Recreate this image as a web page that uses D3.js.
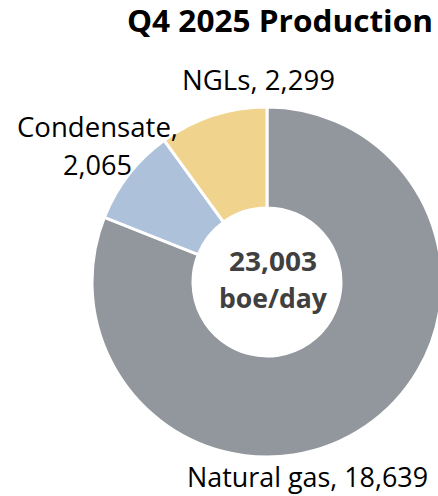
<!DOCTYPE html>
<html>
<head>
<meta charset="utf-8">
<script src="https://cdn.jsdelivr.net/npm/d3@7"></script>
<style>
  html, body { margin: 0; padding: 0; background: #fff; overflow: hidden; }
  text { font-family: "Open Sans", "Noto Sans", sans-serif; }
</style>
</head>
<body>
<script>
const width = 438;
const height = 496;

// production by product, boe/day (clockwise from 12 o'clock)
const categories = ["Natural gas", "Condensate", "NGLs"];
const values = [18639, 2065, 2299];
const colors = ["#92969d", "#adc1da", "#f0d48e"];
const total = 23003;
const unit = "boe/day";
const title = "Q4 2025 Production";

const cx = 267, cy = 282;
const outerR = 175, innerR = 74;

const svg = d3.select('body').append('svg')
  .attr('width', width)
  .attr('height', height);

const data = categories.map((c, i) => ({ name: c, value: values[i], color: colors[i] }));

const pie = d3.pie()
  .value(d => d.value)
  .sort(null);

const arc = d3.arc()
  .innerRadius(innerR)
  .outerRadius(outerR);

const g = svg.append('g')
  .attr('transform', `translate(${cx}, ${cy})`);

g.selectAll('path').data(pie(data))
  .join('path')
  .attr('d', arc)
  .attr('fill', d => d.data.color)
  .attr('stroke', '#fff')
  .attr('stroke-width', 3);

const fmt = d3.format(',');

// text helper: squeeze to the width seen in the picture
const label = (x, y, str, size, len, bold, fill) => svg.append('text')
  .attr('x', x)
  .attr('y', y)
  .attr('font-size', size)
  .attr('font-weight', bold ? 'bold' : 'normal')
  .attr('fill', fill || '#000')
  .attr('textLength', len)
  .attr('lengthAdjust', 'spacingAndGlyphs')
  .text(str);

// title
label(127, 32, title, 31, 306, true);

// center label
label(229, 271, fmt(total), 26, 88, true, '#404040');
label(219, 308, unit, 26, 108, true, '#404040');

// data labels
label(182, 90, `${categories[2]}, ${fmt(values[2])}`, 28, 153);
label(17, 137, `${categories[1]},`, 28, 161);
label(63, 175, fmt(values[1]), 28, 69);
label(187, 487, `${categories[0]}, ${fmt(values[0])}`, 28, 241);
</script>
</body>
</html>
